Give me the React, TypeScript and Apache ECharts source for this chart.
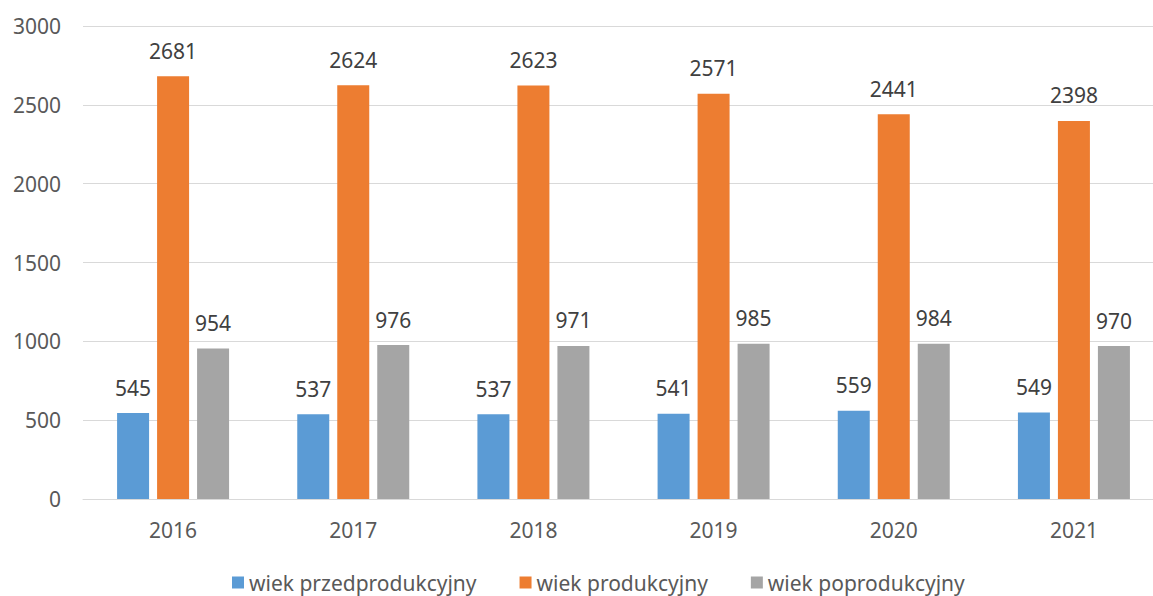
import React, { useEffect, useRef } from "react";
import * as echarts from "echarts";

const categories = ["2016", "2017", "2018", "2019", "2020", "2021"];
const preProductive = [545, 537, 537, 541, 559, 549];
const productive = [2681, 2624, 2623, 2571, 2441, 2398];
const postProductive = [954, 976, 971, 985, 984, 970];
const seriesNames = ["wiek przedprodukcyjny", "wiek produkcyjny", "wiek poprodukcyjny"];
const colors = ["#5B9BD5", "#ED7D31", "#A5A5A5"];

const FONT = "Noto Sans";

export default function App() {
  const ref = useRef<HTMLDivElement>(null);
  useEffect(() => {
    document.body.style.margin = "0";
    const chart = echarts.init(ref.current!, null, { renderer: "svg" });
    const mk = (name: string, data: number[], color: string) => ({
      name,
      type: "bar",
      data,
      barWidth: 32,
      barGap: "25%",
      itemStyle: { color },
      label: {
        show: true,
        position: "top",
        distance: 15,
        color: "#404040",
        fontFamily: FONT,
        fontSize: 21,
      },
    });
    chart.setOption({
      animation: false,
      textStyle: { fontFamily: FONT },
      grid: { left: 83, top: 26, width: 1081, height: 473, containLabel: false },
      legend: {
        top: 572,
        left: 232,
        padding: 0,
        itemWidth: 12,
        itemHeight: 12,
        itemGap: 43,
        itemTextGap: 6,
        icon: "rect",
        textStyle: { color: "#595959", fontFamily: FONT, fontSize: 21 },
        data: seriesNames,
      },
      xAxis: {
        type: "category",
        data: categories,
        axisLine: { lineStyle: { color: "#D9D9D9", width: 1 } },
        axisTick: { show: false },
        axisLabel: { color: "#595959", fontFamily: FONT, fontSize: 21, margin: 20 },
      },
      yAxis: {
        type: "value",
        min: 0,
        max: 3000,
        interval: 500,
        axisLine: { show: false },
        axisTick: { show: false },
        splitLine: { lineStyle: { color: "#D9D9D9", width: 1 } },
        axisLabel: {
          color: "#595959",
          fontFamily: FONT,
          fontSize: 21,
          margin: 22,
          formatter: (v: number) => String(v),
        },
      },
      series: [
        mk(seriesNames[0], preProductive, colors[0]),
        mk(seriesNames[1], productive, colors[1]),
        mk(seriesNames[2], postProductive, colors[2]),
      ],
    });
    return () => chart.dispose();
  }, []);
  return (
    <div style={{ width: 1153, height: 596, overflow: "hidden", position: "relative" }}>
      <div ref={ref} style={{ width: 1180, height: 596 }} />
    </div>
  );
}
